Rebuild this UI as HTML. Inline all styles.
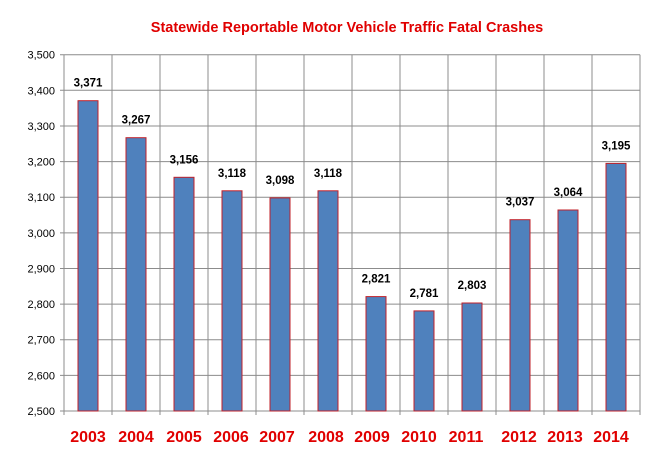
<!DOCTYPE html><html><head><style>body{margin:0;background:#fff}</style></head><body>
<svg width="665" height="461" xmlns="http://www.w3.org/2000/svg" font-family="Liberation Sans, sans-serif">
<rect width="665" height="461" fill="#fff"/>
<text x="347" y="32" text-anchor="middle" font-size="14.5" font-weight="bold" fill="#e00000">Statewide Reportable Motor Vehicle Traffic Fatal Crashes</text>
<g stroke="#8c8c8c" stroke-width="1">
<line x1="60" x2="640" y1="411" y2="411"/><line x1="60" x2="640" y1="375.4" y2="375.4"/><line x1="60" x2="640" y1="339.7" y2="339.7"/><line x1="60" x2="640" y1="304.1" y2="304.1"/><line x1="60" x2="640" y1="268.5" y2="268.5"/><line x1="60" x2="640" y1="232.9" y2="232.9"/><line x1="60" x2="640" y1="197.2" y2="197.2"/><line x1="60" x2="640" y1="161.6" y2="161.6"/><line x1="60" x2="640" y1="126" y2="126"/><line x1="60" x2="640" y1="90.3" y2="90.3"/><line x1="60" x2="640" y1="54.7" y2="54.7"/>
<line x1="64" x2="64" y1="54.7" y2="415"/><line x1="112" x2="112" y1="54.7" y2="415"/><line x1="160" x2="160" y1="54.7" y2="415"/><line x1="208" x2="208" y1="54.7" y2="415"/><line x1="256" x2="256" y1="54.7" y2="415"/><line x1="304" x2="304" y1="54.7" y2="415"/><line x1="352" x2="352" y1="54.7" y2="415"/><line x1="400" x2="400" y1="54.7" y2="415"/><line x1="448" x2="448" y1="54.7" y2="415"/><line x1="496" x2="496" y1="54.7" y2="415"/><line x1="544" x2="544" y1="54.7" y2="415"/><line x1="592" x2="592" y1="54.7" y2="415"/><line x1="640" x2="640" y1="54.7" y2="415"/>
</g>
<g font-size="11" text-anchor="end" fill="#000">
<text x="55" y="415">2,500</text><text x="55" y="379.4">2,600</text><text x="55" y="343.7">2,700</text><text x="55" y="308.1">2,800</text><text x="55" y="272.5">2,900</text><text x="55" y="236.9">3,000</text><text x="55" y="201.2">3,100</text><text x="55" y="165.6">3,200</text><text x="55" y="130">3,300</text><text x="55" y="94.3">3,400</text><text x="55" y="58.7">3,500</text>
</g>
<g fill="#4f81bd" stroke="#c0202a" stroke-width="1">
<rect x="78" y="100.7" width="20" height="310.3"/>
<rect x="126" y="137.7" width="20" height="273.3"/>
<rect x="174" y="177.3" width="20" height="233.7"/>
<rect x="222" y="190.8" width="20" height="220.2"/>
<rect x="270" y="197.9" width="20" height="213.1"/>
<rect x="318" y="190.8" width="20" height="220.2"/>
<rect x="366" y="296.6" width="20" height="114.4"/>
<rect x="414" y="310.9" width="20" height="100.1"/>
<rect x="462" y="303" width="20" height="108"/>
<rect x="510" y="219.7" width="20" height="191.3"/>
<rect x="558" y="210" width="20" height="201"/>
<rect x="606" y="163.4" width="20" height="247.6"/>
</g>
<g font-size="11.5" font-weight="bold" text-anchor="middle" fill="#000">
<text x="88" y="86.7">3,371</text><text x="136" y="123.7">3,267</text><text x="184" y="163.3">3,156</text><text x="232" y="176.8">3,118</text><text x="280" y="183.9">3,098</text><text x="328" y="176.8">3,118</text><text x="376" y="282.6">2,821</text><text x="424" y="296.9">2,781</text><text x="472" y="289">2,803</text><text x="520" y="205.7">3,037</text><text x="568" y="196">3,064</text><text x="616" y="149.4">3,195</text>
</g>
<g font-size="16" font-weight="bold" text-anchor="middle" fill="#e00000">
<text x="88" y="442">2003</text><text x="136" y="442">2004</text><text x="184" y="442">2005</text><text x="231" y="442">2006</text><text x="277" y="442">2007</text><text x="326" y="442">2008</text><text x="372" y="442">2009</text><text x="419" y="442">2010</text><text x="466" y="442">2011</text><text x="519" y="442">2012</text><text x="565" y="442">2013</text><text x="611" y="442">2014</text>
</g>
</svg></body></html>
